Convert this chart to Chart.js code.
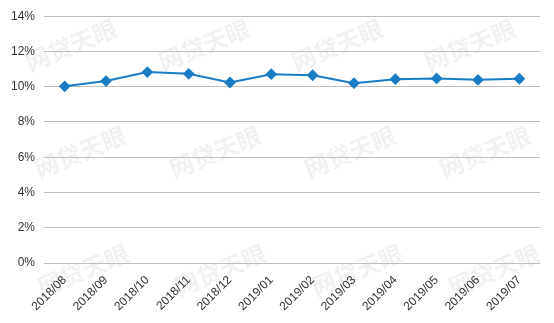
<!DOCTYPE html>
<html>
<head>
<meta charset="utf-8">
<script src="https://cdn.jsdelivr.net/npm/chart.js@4/dist/chart.umd.min.js"></script>
<style>
  html, body { margin: 0; padding: 0; background: #fff; }
  #wrap { width: 554px; height: 323px; }
</style>
</head>
<body>
<div id="wrap"><canvas id="lineChart"></canvas></div>
<script>
// months on the x axis
var months = ["2018/08", "2018/09", "2018/10", "2018/11", "2018/12", "2019/01",
              "2019/02", "2019/03", "2019/04", "2019/05", "2019/06", "2019/07"];
// rate in percent
var rate = [10.02, 10.32, 10.83, 10.73, 10.24, 10.71, 10.65, 10.20, 10.43, 10.47, 10.39, 10.45];
// y axis ticks
var yMax = 14;
var yStep = 2;
// watermark text
var markText = "网贷天眼";

// faint watermark behind the chart
var watermark = {
	id: "watermark",
	beforeDraw: function (chart) {
		var c = chart.ctx;
		var rows = [[71, 45], [80, 152], [83, 270]];
		c.save();
		c.fillStyle = "rgba(0,0,0,0.055)";
		c.font = "bold 24px 'Noto Sans CJK SC'";
		c.textAlign = "center";
		c.textBaseline = "middle";
		rows.forEach(function (r, ri) {
			for (var i = 0; i < 4; i++) {
				c.save();
				c.translate(r[0] + i * (133 + ri * 2), r[1]);
				c.rotate(-22 * Math.PI / 180);
				c.fillText(markText, 0, 0);
				c.restore();
			}
		});
		c.restore();
	}
};

var ctx = document.getElementById("lineChart");
var chart = new Chart(ctx, {
	type: "line",
	data: {
		labels: months,
		datasets: [{
			label: "rate",
			data: rate,
			borderColor: "#1a7cc4",
			backgroundColor: "#1a7cc4",
			borderWidth: 2,
			fill: false,
			tension: 0,
			pointStyle: "rectRot",
			pointRadius: 4.5,
			pointHoverRadius: 4.5
		}]
	},
	options: {
		responsive: true,
		maintainAspectRatio: false,
		animation: false,
		layout: { padding: { top: 14, right: 14, left: 0, bottom: 0 } },
		plugins: {
			legend: { display: false },
			tooltip: { enabled: false }
		},
		scales: {
			x: {
				offset: true,
				grid: { display: false },
				border: { display: false },
				ticks: {
					color: "#333333",
					font: { family: "'Liberation Sans', Arial", size: 12 },
					maxRotation: 45,
					minRotation: 45,
					autoSkip: false,
					padding: 2
				},
				afterFit: function (s) { s.height = 60; }
			},
			y: {
				min: 0,
				max: yMax,
				ticks: {
					stepSize: yStep,
					color: "#333333",
					font: { family: "'Liberation Sans', Arial", size: 12 },
					padding: 9,
					callback: function (v) { return v + "%"; }
				},
				grid: { color: "#bfbfbf", lineWidth: 1, drawTicks: false },
				border: { display: false },
				afterFit: function (s) { s.width = 44; }
			}
		}
	},
	plugins: [watermark]
});
</script>
</body>
</html>
